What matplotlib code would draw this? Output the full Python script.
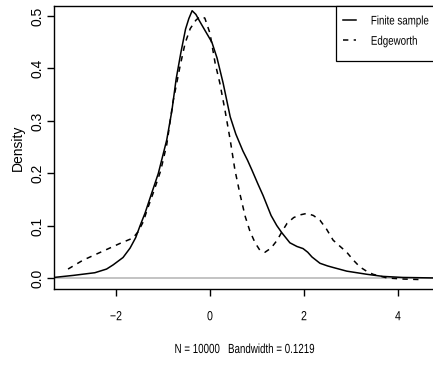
import numpy as np
import matplotlib
matplotlib.use("Agg")
import matplotlib.pyplot as plt
from matplotlib import patheffects
from matplotlib.transforms import Affine2D
from matplotlib.patches import Rectangle

# values
fs_x = [-3.32, -2.9, -2.45, -2.2, -2.06, -1.85, -1.70, -1.58, -1.49, -1.38,
        -1.28, -1.1, -0.92, -0.81, -0.72, -0.62, -0.52, -0.45, -0.38, -0.30,
        -0.22, -0.11, 0.04, 0.15, 0.28, 0.43, 0.55, 0.70, 0.80, 0.89,
        1.02, 1.13, 1.30, 1.42, 1.53, 1.70, 1.85, 1.98, 2.08, 2.17,
        2.34, 2.50, 2.62, 2.91, 3.34, 3.68, 4.10, 4.80]
fs_y = [0.002, 0.006, 0.011, 0.018, 0.026, 0.040, 0.058, 0.078, 0.100, 0.125,
        0.152, 0.200, 0.264, 0.320, 0.380, 0.430, 0.475, 0.495, 0.510, 0.503,
        0.490, 0.473, 0.450, 0.420, 0.372, 0.308, 0.275, 0.243, 0.225, 0.207,
        0.180, 0.158, 0.120, 0.101, 0.087, 0.068, 0.061, 0.057, 0.050, 0.041,
        0.029, 0.024, 0.021, 0.014, 0.008, 0.004, 0.002, 0.001]

ew_x = [-3.02, -2.70, -2.28, -1.91, -1.64, -1.53, -1.42, -1.34, -1.2, -1.05,
        -0.92, -0.79, -0.64, -0.53, -0.42, -0.30, -0.21, -0.11, 0.0, 0.11,
        0.21, 0.32, 0.43, 0.53, 0.64, 0.75, 0.85, 0.96, 1.06, 1.17,
        1.30, 1.43, 1.55, 1.64, 1.78, 1.91, 2.06, 2.20, 2.34, 2.48,
        2.62, 2.77, 2.91, 3.05, 3.19, 3.33, 3.47, 3.77, 4.1, 4.47]
ew_y = [0.018, 0.035, 0.052, 0.067, 0.077, 0.089, 0.108, 0.130, 0.165, 0.205,
        0.255, 0.335, 0.403, 0.448, 0.476, 0.492, 0.499, 0.496, 0.467, 0.410,
        0.372, 0.320, 0.264, 0.207, 0.160, 0.118, 0.090, 0.068, 0.054, 0.050,
        0.058, 0.073, 0.092, 0.105, 0.116, 0.121, 0.124, 0.120, 0.111, 0.094,
        0.073, 0.061, 0.050, 0.035, 0.022, 0.014, 0.008, 0.001, -0.001, -0.002]

x_ticks = [-2, 0, 2, 4]
x_ticklabels = ["\u22122", "0", "2", "4"]
y_ticks = [0.0, 0.1, 0.2, 0.3, 0.4, 0.5]
y_ticklabels = ["0.0", "0.1", "0.2", "0.3", "0.4", "0.5"]
x_label = "N = 10000   Bandwidth = 0.1219"
y_label = "Density"
legend_labels = ["Finite sample", "Edgeworth"]

regular = ["Liberation Sans", "DejaVu Sans"]


class Narrow(patheffects.AbstractPathEffect):
    '''squeeze text horizontally, no narrow font installed'''
    def __init__(self, sx=0.8, anchor="center"):
        super().__init__()
        self.sx = sx
        self.anchor = anchor

    def draw_path(self, renderer, gc, tpath, affine, rgbFace=None):
        ext = tpath.get_extents()
        cx = (ext.x0 + ext.x1) / 2 if self.anchor == "center" else ext.x0
        t = Affine2D().translate(-cx, 0).scale(self.sx, 1).translate(cx, 0)
        renderer.draw_path(gc, tpath, t + affine, rgbFace)


W, H = 433, 369
fig = plt.figure(figsize=(W / 100, H / 100), dpi=100)
# plot box in pixels: left 54, right 436 (runs off the canvas), top 6, bottom 289
ax = fig.add_axes([54 / W, (H - 289) / H, (436 - 54) / W, (289 - 6) / H])

def px2ax(px, py):
    return (px - 54) / 382, (289 - py) / 283

ax.axhline(0, color="#bebebe", lw=1.3, zorder=1)
l1, = ax.plot(fs_x, fs_y, color="black", lw=1.1, label=legend_labels[0], zorder=3)
l2, = ax.plot(ew_x, ew_y, color="black", lw=1.1, dashes=(3.5, 3.5),
              label=legend_labels[1], zorder=3)

ax.set_xlim(-3.319, 4.809)
ax.set_ylim(-0.02, 0.519)

ax.spines["right"].set_visible(False)
for s in ["top", "left", "bottom"]:
    ax.spines[s].set_linewidth(1.0)

ax.set_xticks(x_ticks)
ax.set_xticklabels(x_ticklabels, family=regular, fontsize=9.5)
for t in ax.get_xticklabels():
    t.set_path_effects([Narrow(0.8)])
ax.set_yticks(y_ticks)
ax.set_yticklabels(y_ticklabels, family=regular, fontsize=10,
                   rotation=90, va="center")
ax.tick_params(axis="x", length=5, width=1.0, pad=11)
ax.tick_params(axis="y", length=5, width=1.0, pad=2)

ax.set_xlabel(x_label, family=regular, fontsize=9.5)
ax.xaxis.set_label_coords(0.5, (289 - 350) / 283)
ax.xaxis.label.set_va("center")
ax.xaxis.label.set_path_effects([Narrow(0.74)])
ax.set_ylabel(y_label, family=regular, fontsize=10)
ax.yaxis.set_label_coords((18 - 54) / 382, 0.5)
ax.yaxis.label.set_va("center")

# legend box drawn by hand, contents placed by legend
bx0, by0 = px2ax(336, 61)
bx1, by1 = px2ax(445, 6)
ax.add_patch(Rectangle((bx0, by0), bx1 - bx0, by1 - by0, transform=ax.transAxes,
                       facecolor="white", edgecolor="black", lw=0.9,
                       zorder=4, clip_on=False))
lx, ly = px2ax(340, 13)
leg = ax.legend(handles=[l1, l2], loc="upper left", bbox_to_anchor=(lx, ly),
                borderaxespad=0, frameon=False, handlelength=1.05,
                handletextpad=1.2, borderpad=0.2, labelspacing=0.66,
                prop={"family": regular, "size": 9})
leg.set_zorder(5)
for t in leg.get_texts():
    t.set_path_effects([Narrow(0.78, anchor="left")])

fig.savefig("out.png", dpi=100)
